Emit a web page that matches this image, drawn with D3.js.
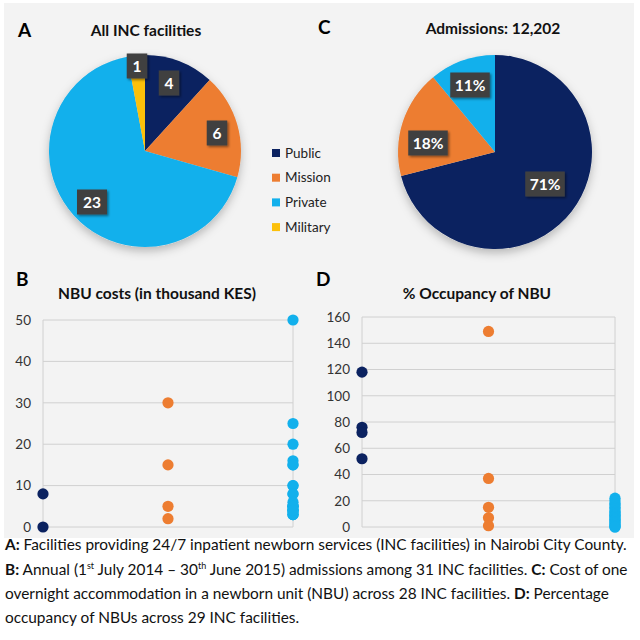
<!DOCTYPE html>
<html lang="en">
<head>
<meta charset="utf-8">
<title>INC facilities</title>
<script src="https://d3js.org/d3.v7.min.js"></script>
<style>
  body { margin: 0; background: #fff; }
  text { font-family: Lato, "Open Sans", sans-serif; }
</style>
</head>
<body>
<div id="chart"></div>
<script>
// sectors, in legend order
var sectors = ["Public", "Mission", "Private", "Military"];
var sectorColors = ["#0b2260", "#ed7d31", "#12b0ec", "#fcc00a"];

// A: number of facilities
var facilityCounts = [4, 6, 23, 1];
// C: share of admissions (%), Military has none
var admissionShares = [71, 18, 11, 0];

// B: cost of one night in NBU (thousand KES)
var costPublic = [8, 0];
var costMission = [30, 15, 5, 2];
var costPrivate = [50, 25, 20, 16, 15, 15, 10, 10, 8, 8, 6, 5, 5, 5, 4, 4, 4, 3, 3, 3, 5, 4];

// D: % occupancy
var occPublic = [118, 76, 72, 52];
var occMission = [149, 37, 15, 7, 1];
var occPrivate = [22, 20, 18, 17, 15, 14, 12, 11, 10, 9, 8, 7, 6, 5, 4, 3, 2, 1, 0, 0];

var costTicks = [0, 10, 20, 30, 40, 50];
var occTicks = [0, 20, 40, 60, 80, 100, 120, 140, 160];

var W = 640, H = 640;
var svg = d3.select("#chart").append("svg").attr("width", W).attr("height", H);

var defs = svg.append("defs");
var sh = defs.append("filter").attr("id", "shadow").attr("x", "-30%").attr("y", "-30%").attr("width", "160%").attr("height", "170%");
sh.append("feDropShadow").attr("dx", 0).attr("dy", 4).attr("stdDeviation", 5).attr("flood-color", "#000").attr("flood-opacity", 0.25);
var sh2 = defs.append("filter").attr("id", "boxshadow").attr("x", "-30%").attr("y", "-30%").attr("width", "160%").attr("height", "160%");
sh2.append("feDropShadow").attr("dx", 1.5).attr("dy", 1.5).attr("stdDeviation", 1.2).attr("flood-color", "#000").attr("flood-opacity", 0.45);

// grey panel
svg.append("rect").attr("x", 4).attr("y", 3).attr("width", 630).attr("height", 535).attr("fill", "#f3f3f3");

function panelLetter(t, x, y) {
  svg.append("text").attr("x", x).attr("y", y).attr("font-size", 19).attr("font-weight", 700)
    .attr("font-family", "'Liberation Sans', Arial, sans-serif").attr("fill", "#000").text(t);
}
function title(t, x, y) {
  svg.append("text").attr("x", x).attr("y", y).attr("text-anchor", "middle").attr("font-size", 15.5)
    .attr("font-weight", 700).attr("fill", "#111").text(t);
}

// ---------- pies ----------
function drawPie(values, cx, cy, r, labelFn) {
  var g = svg.append("g").attr("transform", "translate(" + cx + "," + cy + ")");
  var pie = d3.pie().sort(null).value(function(d) { return d; });
  var arc = d3.arc().innerRadius(0).outerRadius(r);
  var arcs = pie(values);
  g.append("circle").attr("r", r).attr("fill", "#ddd").attr("filter", "url(#shadow)");
  g.selectAll("path.slice").data(arcs).enter().append("path")
    .attr("class", "slice").attr("d", arc)
    .attr("fill", function(d, i) { return sectorColors[i]; });
  var lab = d3.arc().innerRadius(r * 0.72).outerRadius(r * 0.72);
  arcs.forEach(function(d, i) {
    if (d.data === 0) return;
    var c = labelFn.pos ? labelFn.pos(d, i, lab) : lab.centroid(d);
    var t = labelFn.text(d.data);
    var w = 9.5 * t.length + 11, h = 25;
    var lg = g.append("g").attr("transform", "translate(" + c[0] + "," + c[1] + ")");
    lg.append("rect").attr("x", -w / 2).attr("y", -h / 2).attr("width", w).attr("height", h)
      .attr("fill", "#404040").attr("filter", "url(#boxshadow)");
    lg.append("text").attr("text-anchor", "middle").attr("dy", "0.36em").attr("font-size", 15.5)
      .attr("font-weight", 700).attr("fill", "#fff").text(t);
  });
}

panelLetter("A", 18, 37);
title("All INC facilities", 146, 36);
var posA = { "0": [24, -68], "1": [72, -18], "2": [-53, 51], "3": [-8, -85] };
drawPie(facilityCounts, 145, 151, 96, {
  text: function(v) { return String(v); },
  pos: function(d, i) { return posA[i]; }
});

// legend
var leg = svg.append("g").attr("transform", "translate(272,153)");
sectors.forEach(function(s, i) {
  var row = leg.append("g").attr("transform", "translate(0," + i * 24.7 + ")");
  row.append("rect").attr("x", 0).attr("y", -4).attr("width", 8).attr("height", 8).attr("fill", sectorColors[i]);
  row.append("text").attr("x", 13).attr("dy", "0.35em").attr("font-size", 13.5).attr("fill", "#222").text(s);
});

panelLetter("C", 318, 34);
title("Admissions: 12,202", 493, 34);
var posC = { "0": [50, 32], "1": [-67, -9], "2": [-25, -67] };
drawPie(admissionShares, 495, 152, 97, {
  text: function(v) { return v + "%"; },
  pos: function(d, i) { return posC[i]; }
});

// ---------- dot plots ----------
function dotPlot(opt) {
  var x = d3.scaleLinear().domain([0, 2]).range([opt.left, opt.right]);
  var y = d3.scaleLinear().domain([0, opt.max]).range([opt.bottom, opt.top]);
  var g = svg.append("g");
  g.selectAll("line.h").data(opt.ticks).enter().append("line")
    .attr("x1", opt.left).attr("x2", opt.right)
    .attr("y1", function(d) { return y(d); }).attr("y2", function(d) { return y(d); })
    .attr("stroke", "#d0d0d0").attr("stroke-width", 1);
  g.selectAll("line.v").data([0, 2]).enter().append("line")
    .attr("x1", function(d) { return x(d); }).attr("x2", function(d) { return x(d); })
    .attr("y1", opt.top).attr("y2", opt.bottom)
    .attr("stroke", "#d0d0d0").attr("stroke-width", 1);
  var ax = g.append("g").attr("transform", "translate(" + (opt.left - 6) + ",0)")
    .call(d3.axisLeft(y).tickValues(opt.ticks).tickSize(0).tickPadding(6));
  ax.select(".domain").remove();
  ax.selectAll("text").attr("font-size", 13.5).attr("fill", "#333").attr("font-family", "Lato, 'Open Sans', sans-serif");
  opt.series.forEach(function(vals, i) {
    g.selectAll("circle.s" + i).data(vals).enter().append("circle")
      .attr("cx", x(i)).attr("cy", function(d) { return y(d); }).attr("r", 5.6)
      .attr("fill", sectorColors[i]);
  });
}

panelLetter("B", 16, 286);
title("NBU costs (in thousand KES)", 157, 299);
dotPlot({ left: 43, right: 293, top: 320, bottom: 527, max: 50, ticks: costTicks,
  series: [costPublic, costMission, costPrivate] });

panelLetter("D", 316, 286);
title("% Occupancy of NBU", 477, 299);
dotPlot({ left: 362, right: 615, top: 317, bottom: 527, max: 160, ticks: occTicks,
  series: [occPublic, occMission, occPrivate] });

// ---------- caption ----------
var lines = [
  [["A:", 1], [" Facilities providing 24/7 inpatient newborn services (INC facilities) in Nairobi City County.", 0]],
  [["B:", 1], [" Annual (1", 0], ["st", 2], [" July 2014 \u2013 30", 0], ["th", 2], [" June 2015) admissions among 31 INC facilities. ", 0], ["C:", 1], [" Cost of one", 0]],
  [["overnight accommodation in a newborn unit (NBU) across 28 INC facilities. ", 0], ["D:", 1], [" Percentage", 0]],
  [["occupancy of NBUs across 29 INC facilities.", 0]]
];
var baselines = [550, 575, 599, 623];
lines.forEach(function(parts, li) {
  var t = svg.append("text").attr("x", 5).attr("y", baselines[li]).attr("font-size", 15.4)
    .attr("fill", "#111").attr("font-family", "Lato, 'Open Sans', sans-serif");
  parts.forEach(function(p, pi) {
    var ts = t.append("tspan").text(p[0]);
    if (p[1] === 1) ts.attr("font-weight", 700);
    if (p[1] === 2) ts.attr("font-size", 9).attr("dy", -6);
    if (p[1] !== 2 && pi > 0 && parts[pi - 1][1] === 2) ts.attr("dy", 6);
  });
});
</script>
</body>
</html>
